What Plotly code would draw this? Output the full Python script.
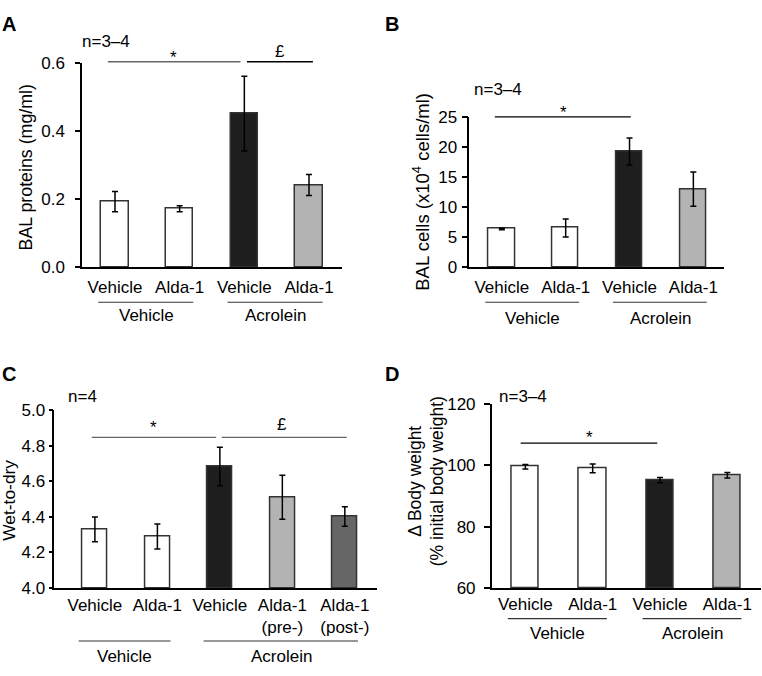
import plotly.graph_objects as go

W, H = 762, 676
FONT = "Liberation Sans, Arial, sans-serif"

# ---------------- data ----------------
labels_4 = ["Vehicle", "Alda-1", "Vehicle", "Alda-1"]
labels_5 = ["Vehicle", "Alda-1", "Vehicle", "Alda-1<br>(pre-)", "Alda-1<br>(post-)"]

a_vals = [0.193, 0.172, 0.452, 0.242]
a_err = [0.030, 0.009, 0.110, 0.031]

b_vals = [6.35, 6.5, 19.2, 12.95]
b_err = [0.12, 1.5, 2.25, 2.85]

c_vals = [4.33, 4.29, 4.684, 4.511, 4.403]
c_err = [0.07, 0.07, 0.108, 0.124, 0.055]

d_vals = [99.6, 99.05, 95.2, 96.8]
d_err = [0.75, 1.45, 0.85, 0.9]

colors_4 = ["white", "white", "#1e1e1e", "#b3b3b3"]
colors_5 = ["white", "white", "#1e1e1e", "#b3b3b3", "#666666"]

groups = ["Vehicle", "Acrolein"]

FS = 17


def px(x):
    return x / W


def py(y):
    return 1 - y / H


fig = go.Figure()

# panel geometry in pixels: (left, right, top, bottom)
panels = {
    "A": dict(box=(82, 342, 56, 265.7), xr=[-0.51, 3.51], yr=[0, 0.6], dt=0.2, fmt=".1f",
              vals=a_vals, err=a_err, cols=colors_4, labels=labels_4, width=0.42,
              so=4, tl=5, yso=7),
    "B": dict(box=(469.3, 724, 110.7, 265.7), xr=[-0.51, 3.48], yr=[0, 25], dt=5, fmt="d",
              vals=b_vals, err=b_err, cols=colors_4, labels=labels_4, width=0.41,
              so=4, tl=6, yso=1),
    "C": dict(box=(54.3, 376.7, 413, 595.7), xr=[-0.65, 4.51], yr=[4.0, 5.0], dt=0.2, fmt=".1f",
              vals=c_vals, err=c_err, cols=colors_5, labels=labels_5, width=0.4,
              so=1, tl=4, yso=0),
    "D": dict(box=(491.7, 761, 406.7, 595.7), xr=[-0.5, 3.5], yr=[60, 120], dt=20, fmt="d",
              vals=d_vals, err=d_err, cols=colors_4, labels=labels_4, width=0.41,
              so=0, tl=6, yso=5),
}

layout = {}
for i, (key, p) in enumerate(panels.items(), start=1):
    l, r, t, b = p["box"]
    xa = "x" if i == 1 else f"x{i}"
    ya = "y" if i == 1 else f"y{i}"
    n = len(p["vals"])
    fig.add_trace(go.Bar(
        x=list(range(n)), y=[v - p["yr"][0] for v in p["vals"]], base=p["yr"][0],
        width=p["width"],
        marker=dict(color=p["cols"], line=dict(color="#333333", width=1.5)),
        error_y=dict(type="data", array=p["err"], color="black", thickness=1.5, width=3),
        xaxis=xa, yaxis=ya, showlegend=False, hoverinfo="skip",
    ))
    layout[f"xaxis{i if i > 1 else ''}"] = dict(
        domain=[px(l), px(r)], anchor=ya, range=p["xr"], fixedrange=True,
        showline=True, linecolor="black", linewidth=1.5, ticks="",
        tickvals=list(range(n)), ticktext=p["labels"], showgrid=False, zeroline=False,
        tickfont=dict(size=FS, color="black", family=FONT), ticklabelstandoff=p["so"],
        ticklabeloverflow="allow",
    )
    layout[f"yaxis{i if i > 1 else ''}"] = dict(
        domain=[py(b), py(t)], anchor=xa, range=p["yr"], fixedrange=True,
        showline=True, linecolor="black", linewidth=1.5, ticks="outside", ticklen=p["tl"],
        tickwidth=1.5, tickcolor="black", dtick=p["dt"], tick0=p["yr"][0],
        tickformat=p["fmt"], showgrid=False, zeroline=False,
        tickfont=dict(size=FS, color="black", family=FONT), ticklabelstandoff=p["yso"],
    )

fig.update_layout(**layout)

shapes = []
annotations = []


def ann(text, x, y, xref="paper", yref="paper", size=FS, bold=False, angle=0, xanchor="center",
        yanchor="middle", align="center"):
    annotations.append(dict(
        text=f"<b>{text}</b>" if bold else text, x=x, y=y, xref=xref, yref=yref,
        showarrow=False, font=dict(size=size, color="black", family=FONT),
        textangle=angle, xanchor=xanchor, yanchor=yanchor, align=align,
    ))


def hline(xref, x0, x1, ypx, color="black", width=1.3):
    shapes.append(dict(type="line", xref=xref, yref="paper", x0=x0, x1=x1,
                       y0=py(ypx), y1=py(ypx), line=dict(color=color, width=width)))


# panel letters
ann("A", px(0), py(15), bold=True, size=20, xanchor="left")
ann("B", px(383), py(15), bold=True, size=20, xanchor="left")
ann("C", px(0), py(376), bold=True, size=20, xanchor="left")
ann("D", px(383), py(376), bold=True, size=20, xanchor="left")

# n labels
ann("n=3–4", px(80), py(33), xanchor="left")
ann("n=3–4", px(472), py(83), xanchor="left")
ann("n=4", px(66), py(399), xanchor="left")
ann("n=3–4", px(497), py(399), xanchor="left")

# y titles
ann("BAL proteins (mg/ml)", px(26), py(163), angle=-90, size=17.8)
ann("BAL cells (x10<sup>4</sup> cells/ml)", px(421), py(188), angle=-90, size=18.5)
ann("Wet-to-dry", px(9.5), py(505.5), angle=-90, size=17.4)
ann("Δ Body weight<br>(% initial body weight)", px(426), py(486), angle=-90, size=17.5)

# significance bars
hline("x", -0.11, 1.94, 54.3, color="#666666")
hline("x", 2.04, 3.06, 54.3)
ann("*", 0.9, py(49.5), xref="x")
ann("£", 2.55, py(43.5), xref="x")

hline("x2", -0.11, 2.02, 111)
ann("*", 0.97, py(106), xref="x2")

hline("x3", -0.05, 1.94, 440.7, color="#666666")
hline("x3", 2.03, 4.03, 440.7, color="#666666")
ann("*", 0.93, py(431), xref="x3")
ann("£", 3.0, py(427.3), xref="x3")

hline("x4", -0.07, 1.96, 446.7)
ann("*", 0.96, py(441), xref="x4")

# group underlines and labels
group_rows = [
    ("x", [(0, 1), (2, 3)], 301.7, 315),
    ("x2", [(0, 1), (2, 3)], 301.7, 318.3),
    ("x3", [(0, 1), (2, 4)], 650.3, 666),
    ("x4", [(0, 1), (2, 3)], 627.3, 643),
]
for xref, spans, yl, yt in group_rows:
    for name, (a, b) in zip(groups, spans):
        hline(xref, a - 0.26, b + 0.21, yl, color="#333333", width=1.1)
        ann(name, (a + b) / 2 - 0.02, py(yt), xref=xref)

fig.update_layout(
    width=W, height=H, margin=dict(l=0, r=0, t=0, b=0),
    paper_bgcolor="white", plot_bgcolor="white",
    shapes=shapes, annotations=annotations, bargap=0,
    font=dict(family=FONT, color="black"),
)

fig.write_html(
    "out.html",
    config={"displayModeBar": False},
    post_script="document.body.style.margin='0px';document.body.style.overflow='hidden';",
)
